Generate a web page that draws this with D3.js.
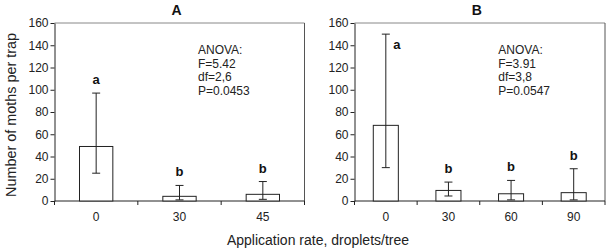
<!DOCTYPE html>
<html>
<head>
<meta charset="utf-8">
<script src="https://cdn.jsdelivr.net/npm/d3@7"></script>
<style>
    body { margin: 0; background: #fff; }
    svg { display: block; font-family: "Liberation Sans", Arial, sans-serif; }
</style>
</head>
<body>
<div class="charts-div"></div>
<script>
// Panel A
const ratesA = ["0", "30", "45"];
const meansA = [49, 4.2, 6];
const errHiA = [97, 14, 17.5];
const errLoA = [25, 1, 1.5];
const lettersA = ["a", "b", "b"];
const anovaA = ["ANOVA:", "F=5.42", "df=2,6", "P=0.0453"];

// Panel B
const ratesB = ["0", "30", "60", "90"];
const meansB = [68, 9.5, 6.5, 7.5];
const errHiB = [150, 17, 18.5, 29];
const errLoB = [30, 4.5, 1, 1];
const lettersB = ["a", "b", "b", "b"];
const anovaB = ["ANOVA:", "F=3.91", "df=3,8", "P=0.0547"];

const yTicks = [0, 20, 40, 60, 80, 100, 120, 140, 160];

const width = 607, height = 248;
const svg = d3.select(".charts-div").append("svg")
    .attr("width", width).attr("height", height);

const drawPanel = (opts) => {
    const { left, right, top, bottom, rates, means, errHi, errLo, letters, anova, title } = opts;

    const x = d3.scaleBand().domain(rates).range([left, right]).paddingInner(0).paddingOuter(0);
    const y = d3.scaleLinear().domain([0, 160]).range([bottom, top]);
    const g = svg.append("g");

    // plot frame (top and right)
    g.append("line").attr("x1", left).attr("x2", right).attr("y1", top).attr("y2", top)
        .attr("stroke", "#888").attr("stroke-width", 1);
    g.append("line").attr("x1", right).attr("x2", right).attr("y1", top).attr("y2", bottom)
        .attr("stroke", "#555").attr("stroke-width", 1);

    // y axis
    const yAxis = g.append("g").attr("transform", `translate(${left},0)`)
        .call(d3.axisLeft(y).tickValues(yTicks).tickSize(4).tickSizeOuter(0));
    yAxis.select(".domain").attr("stroke", "#222");
    yAxis.selectAll(".tick line").attr("stroke", "#222");
    yAxis.selectAll("text").attr("font-size", 12).attr("fill", "#222")
        .attr("font-family", "Liberation Sans, Arial, sans-serif").attr("x", -6);

    // x axis, ticks at category boundaries
    const bw = x.bandwidth();
    g.append("line").attr("x1", left).attr("x2", right).attr("y1", bottom).attr("y2", bottom)
        .attr("stroke", "#222");
    const bounds = rates.map((r) => x(r)).concat([x(rates[rates.length - 1]) + bw]);
    g.selectAll(".xtick").data(bounds).join("line")
        .attr("x1", (d) => d).attr("x2", (d) => d)
        .attr("y1", bottom).attr("y2", bottom + 4)
        .attr("stroke", "#222");
    g.selectAll(".xlabel").data(rates).join("text")
        .attr("x", (d) => x(d) + bw / 2).attr("y", bottom + 20)
        .attr("text-anchor", "middle").attr("font-size", 12).attr("fill", "#222")
        .text((d) => d);

    // bars
    const barW = bw * 0.4;
    g.selectAll(".bar").data(rates).join("rect")
        .attr("x", (d) => x(d) + bw / 2 - barW / 2)
        .attr("y", (d, i) => y(means[i]))
        .attr("width", barW)
        .attr("height", (d, i) => bottom - y(means[i]))
        .attr("fill", "#fff").attr("stroke", "#222").attr("stroke-width", 1);

    // error bars
    const cap = 4;
    rates.forEach((r, i) => {
        const cx = x(r) + bw / 2;
        g.append("line").attr("x1", cx).attr("x2", cx)
            .attr("y1", y(errHi[i])).attr("y2", y(errLo[i])).attr("stroke", "#222");
        [errHi[i], errLo[i]].forEach((v) => {
            g.append("line").attr("x1", cx - cap).attr("x2", cx + cap)
                .attr("y1", y(v)).attr("y2", y(v)).attr("stroke", "#222");
        });

        // significance letters
        let lx = cx, ly = y(errHi[i]) - 9;
        if (y(errHi[i]) - 20 < top) {
            lx = cx + 11;
            ly = y(errHi[i]) + 15;
        }
        g.append("text").attr("x", lx).attr("y", ly)
            .attr("text-anchor", "middle").attr("font-size", 13).attr("font-weight", "bold")
            .attr("fill", "#111").text(letters[i]);
    });

    // ANOVA annotation
    const ax = left + (right - left) * 0.574;
    g.selectAll(".anova").data(anova).join("text")
        .attr("x", ax).attr("y", (d, i) => 54 + i * 13.5)
        .attr("font-size", 12).attr("fill", "#222").text((d) => d);

    // panel title
    g.append("text").attr("x", left + (right - left) * 0.488).attr("y", 15)
        .attr("text-anchor", "middle").attr("font-size", 14).attr("font-weight", "bold")
        .attr("fill", "#111").text(title);
};

drawPanel({ left: 54.5, right: 304.5, top: 23, bottom: 201, rates: ratesA, means: meansA,
    errHi: errHiA, errLo: errLoA, letters: lettersA, anova: anovaA, title: "A" });
drawPanel({ left: 354.5, right: 605, top: 23, bottom: 201, rates: ratesB, means: meansB,
    errHi: errHiB, errLo: errLoB, letters: lettersB, anova: anovaB, title: "B" });

// axis titles
svg.append("text")
    .attr("transform", "translate(16,115) rotate(-90)")
    .attr("text-anchor", "middle").attr("font-size", 14.4).attr("fill", "#222")
    .text("Number of moths per trap");
svg.append("text")
    .attr("x", 318).attr("y", 245)
    .attr("text-anchor", "middle").attr("font-size", 14).attr("fill", "#222")
    .text("Application rate, droplets/tree");
</script>
</body>
</html>
